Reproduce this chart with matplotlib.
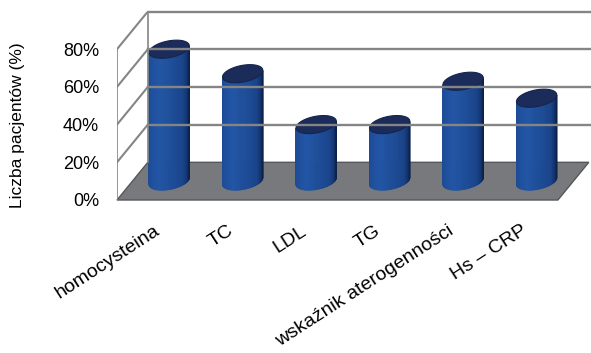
import numpy as np
import matplotlib
matplotlib.use("Agg")
import matplotlib.pyplot as plt
from matplotlib.patches import Polygon

plt.rcParams['font.family'] = ['Liberation Sans', 'DejaVu Sans']

categories = ['homocysteina', 'TC', 'LDL', 'TG', 'wskaźnik aterogenności', 'Hs – CRP']
values = [70, 57, 30, 30, 53, 44]
y_ticks = [0, 20, 40, 60, 80]
y_tick_labels = ['0%', '20%', '40%', '60%', '80%']
y_label = 'Liczba pacjentów (%)'

# oblique projection: one unit of depth moves the point by this much
DEPTH_X, DEPTH_Y = 0.42, 20.0
YMAX = 80
GRID = '#858585'
FLOOR = '#77797c'

fig = plt.figure(figsize=(5.91, 3.53), dpi=100)
ax = fig.add_axes([117 / 591, 153 / 353, 474 / 591, 188.5 / 353])
ax.set_xlim(0, 6.45)
ax.set_ylim(0, 100)
for s in ax.spines.values():
    s.set_visible(False)

n = len(categories)

# back wall gridlines
for v in y_ticks[1:]:
    ax.plot([DEPTH_X, 6.7], [v + DEPTH_Y, v + DEPTH_Y], color=GRID, lw=1.7, clip_on=False)
# left wall
ax.plot([0, 0], [0, YMAX], color=GRID, lw=1.2)
ax.plot([DEPTH_X, DEPTH_X], [DEPTH_Y, YMAX + DEPTH_Y], color=GRID, lw=1.2)
for v in y_ticks[1:]:
    ax.plot([0, DEPTH_X], [v, v + DEPTH_Y], color=GRID, lw=1.5)

# floor
floor = Polygon([[0, 0], [n, 0], [n + DEPTH_X, DEPTH_Y], [DEPTH_X, DEPTH_Y]],
                closed=True, facecolor=FLOOR, edgecolor='#55575a', lw=1.0, clip_on=False)
ax.add_patch(floor)


def shade(t):
    # left -> right shading of the cylinder side
    stops = [0.0, 0.35, 0.75, 1.0]
    cols = np.array([[0x1c, 0x48, 0x92], [0x22, 0x56, 0xa6], [0x1a, 0x44, 0x8a], [0x0c, 0x20, 0x48]]) / 255
    return [np.interp(t, stops, cols[:, k]) for k in range(3)]


rx = 0.255
rd = 0.24
phi = np.arctan2(rd * DEPTH_X, rx)
th = np.linspace(np.pi + phi, 2 * np.pi + phi, 60)

for i, v in enumerate(values):
    cx = i + 0.5 + 0.5 * DEPTH_X
    y0 = 0.5 * DEPTH_Y
    y1 = y0 + v
    ex = cx + rx * np.cos(th) + rd * DEPTH_X * np.sin(th)
    ey = rd * DEPTH_Y * np.sin(th)
    for k in range(len(th) - 1):
        t = (k + 0.5) / (len(th) - 1)
        c = shade(t)
        quad = [[ex[k], y0 + ey[k]], [ex[k + 1], y0 + ey[k + 1]],
                [ex[k + 1], y1 + ey[k + 1]], [ex[k], y1 + ey[k]]]
        ax.add_patch(Polygon(quad, closed=True, facecolor=c, edgecolor=c, lw=0.6))
    tt = np.linspace(0, 2 * np.pi, 80)
    top_x = cx + rx * np.cos(tt) + rd * DEPTH_X * np.sin(tt)
    top_y = y1 + rd * DEPTH_Y * np.sin(tt)
    ax.add_patch(Polygon(np.column_stack([top_x, top_y]), closed=True,
                         facecolor='#1b2c5a', edgecolor='#16244a', lw=0.8))

ax.set_yticks(y_ticks)
ax.set_yticklabels(y_tick_labels, fontsize=13)
ax.tick_params(axis='y', length=0, pad=13)

ax.set_xticks(np.arange(n) + 0.5)
ax.set_xticklabels(categories, fontsize=14, rotation=33, ha='right', rotation_mode='anchor')
ax.tick_params(axis='x', length=0, pad=16)

fig.text(18 / 591, 1 - 125 / 353, y_label, rotation=90, ha='center', va='center', fontsize=12.5)

fig.savefig('out.png', dpi=100)
